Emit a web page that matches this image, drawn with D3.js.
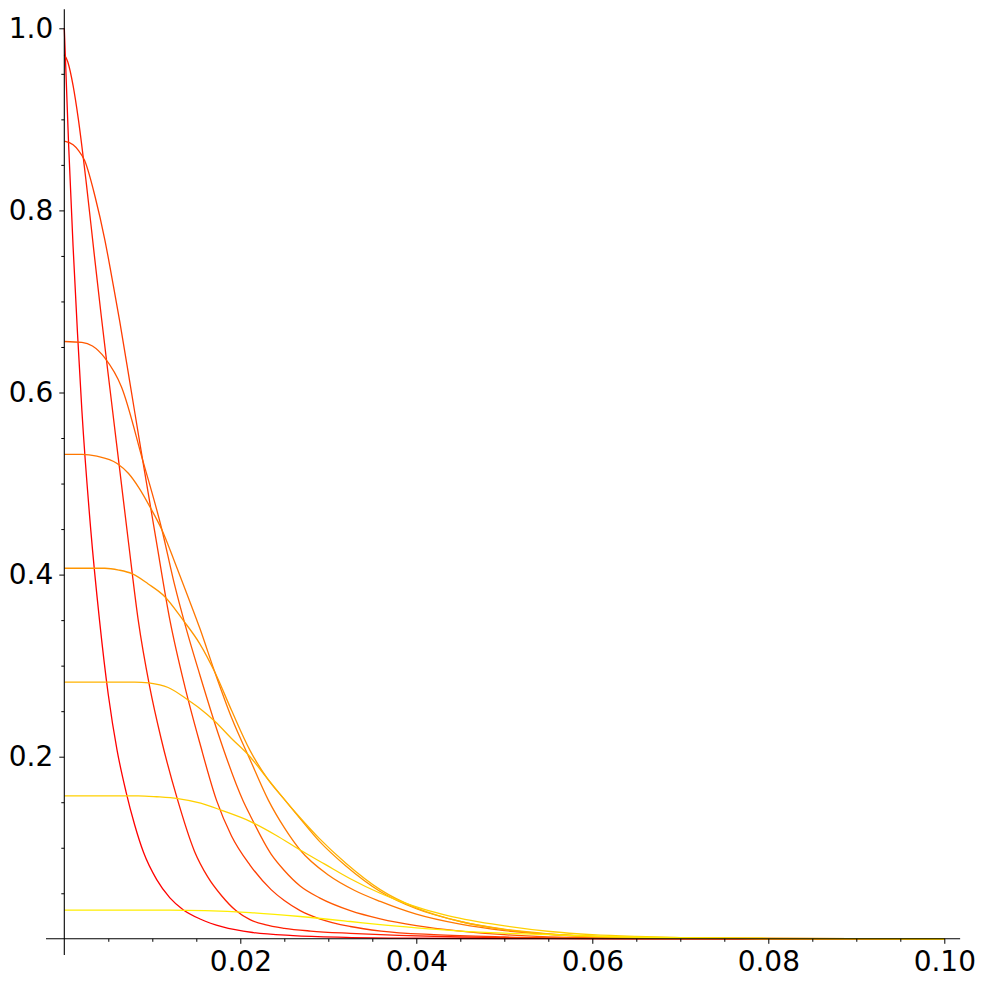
<!DOCTYPE html>
<html>
<head>
<meta charset="utf-8">
<script src="https://cdn.jsdelivr.net/npm/d3@7"></script>
<style>
  html, body { margin: 0; padding: 0; background: #ffffff; }
  svg { display: block; }
  text { font-family: "DejaVu Sans", sans-serif; }
</style>
</head>
<body>
<svg id="chart" width="984" height="986"></svg>
<script>
// ---- data ----
const seriesNames = ["I", "H", "G", "F", "E", "D", "C", "B", "A"];
const seriesColors = ["#ff0000", "#ff1e00", "#ff3c00", "#ff5900", "#ff7700", "#ff9500", "#ffb300", "#ffd000", "#ffee00"];

const curveI = [[0,1.0],[0.0005,0.87],[0.001,0.76],[0.0015,0.665],[0.002,0.58],[0.003,0.45],[0.004,0.35],[0.005,0.268],[0.006,0.207],[0.007,0.162],[0.008,0.125],[0.009,0.095],[0.0105,0.065],[0.012,0.045],[0.0135,0.032],[0.0155,0.0215],[0.018,0.013],[0.0215,0.0068],[0.026,0.0035],[0.032,0.0016],[0.04,0.0006],[0.05,0.0002],[0.06,0.00005],[0.1,0]];
const curveH = [[0,0.971],[0.0004,0.963],[0.001,0.937],[0.0016,0.9],[0.0025,0.83],[0.0034,0.752],[0.0042,0.684],[0.0052,0.603],[0.0063,0.515],[0.0073,0.435],[0.0084,0.35],[0.0097,0.277],[0.011,0.22],[0.0128,0.155],[0.0148,0.096],[0.0163,0.068],[0.0179,0.047],[0.0195,0.031],[0.0211,0.021],[0.0228,0.0155],[0.025,0.0115],[0.028,0.0085],[0.0325,0.006],[0.038,0.0038],[0.045,0.002],[0.055,0.0007],[0.065,0.0002],[0.1,0]];
const curveG = [[0,0.876],[0.001,0.872],[0.0016,0.866],[0.0023,0.855],[0.0035,0.815],[0.0046,0.768],[0.0056,0.716],[0.0063,0.678],[0.0075,0.608],[0.0089,0.526],[0.0104,0.44],[0.012,0.35],[0.0137,0.277],[0.0154,0.215],[0.0173,0.152],[0.019,0.113],[0.0211,0.081],[0.0235,0.054],[0.025,0.042],[0.0268,0.031],[0.029,0.022],[0.0325,0.0135],[0.036,0.0085],[0.042,0.0045],[0.05,0.002],[0.06,0.0006],[0.07,0.0001],[0.1,0]];
const curveF = [[0,0.656],[0.002,0.655],[0.0032,0.651],[0.0046,0.638],[0.0065,0.606],[0.0089,0.526],[0.0111,0.449],[0.0125,0.39],[0.0139,0.339],[0.0154,0.29],[0.0175,0.225],[0.0203,0.152],[0.0211,0.136],[0.0235,0.093],[0.025,0.075],[0.0268,0.058],[0.029,0.045],[0.0325,0.031],[0.0359,0.022],[0.04,0.0145],[0.045,0.0085],[0.05,0.0045],[0.055,0.0022],[0.065,0.0005],[0.1,0]];
const curveE = [[0,0.532],[0.002,0.532],[0.0037,0.53],[0.006,0.522],[0.0073,0.511],[0.0085,0.495],[0.0097,0.475],[0.0111,0.449],[0.0125,0.415],[0.014,0.377],[0.0154,0.341],[0.0171,0.293],[0.019,0.243],[0.0211,0.197],[0.0232,0.152],[0.025,0.122],[0.0268,0.0975],[0.03,0.07],[0.033,0.053],[0.0359,0.041],[0.04,0.027],[0.045,0.016],[0.05,0.009],[0.055,0.005],[0.06,0.0025],[0.07,0.0006],[0.1,0]];
const curveD = [[0,0.407],[0.0046,0.407],[0.0062,0.405],[0.0077,0.401],[0.0095,0.39],[0.0114,0.376],[0.0135,0.35],[0.0154,0.324],[0.0171,0.293],[0.019,0.251],[0.0211,0.207],[0.023,0.177],[0.0251,0.152],[0.0268,0.132],[0.029,0.107],[0.032,0.08],[0.0359,0.052],[0.04,0.033],[0.045,0.019],[0.05,0.01],[0.055,0.005],[0.06,0.0025],[0.07,0.0006],[0.1,0]];
const curveC = [[0,0.282],[0.008,0.282],[0.0096,0.281],[0.0118,0.276],[0.0141,0.262],[0.0154,0.253],[0.0171,0.239],[0.019,0.22],[0.0211,0.2],[0.023,0.177],[0.0251,0.152],[0.0268,0.133],[0.029,0.11],[0.032,0.083],[0.0359,0.054],[0.04,0.034],[0.045,0.019],[0.05,0.0105],[0.055,0.0055],[0.06,0.0028],[0.07,0.0007],[0.1,0]];
const curveB = [[0,0.157],[0.0084,0.157],[0.0105,0.156],[0.0129,0.154],[0.0155,0.149],[0.0179,0.141],[0.0211,0.129],[0.024,0.114],[0.0268,0.0975],[0.0296,0.082],[0.0325,0.066],[0.0359,0.05],[0.0382,0.041],[0.041,0.032],[0.0438,0.025],[0.0495,0.015],[0.0552,0.008],[0.06,0.0045],[0.065,0.0025],[0.07,0.0013],[0.08,0.0003],[0.1,0]];
const curveA = [[0,0.0316],[0.012,0.0316],[0.016,0.031],[0.0211,0.0288],[0.0268,0.0245],[0.0325,0.019],[0.0359,0.0155],[0.04,0.012],[0.045,0.0085],[0.05,0.0062],[0.0552,0.0045],[0.06,0.003],[0.065,0.0018],[0.07,0.001],[0.08,0.0003],[0.1,0]];

const xMajorTicks = [0.02, 0.04, 0.06, 0.08, 0.10];
const xTickLabels = ["0.02", "0.04", "0.06", "0.08", "0.10"];
const yMajorTicks = [0.2, 0.4, 0.6, 0.8, 1.0];
const yTickLabels = ["0.2", "0.4", "0.6", "0.8", "1.0"];

// ---- drawing ----
const allCurves = [curveI, curveH, curveG, curveF, curveE, curveD, curveC, curveB, curveA];
const svg = d3.select("#chart");

const x = d3.scaleLinear().domain([0, 0.1]).range([64.3, 944.3]);
const y = d3.scaleLinear().domain([0, 1]).range([938.8, 28.3]);

const xMinor = d3.range(1, 21).map(i => i * 0.005).filter(v => !xMajorTicks.some(m => Math.abs(m - v) < 1e-9));
const yMinor = d3.range(1, 21).map(i => i * 0.05).filter(v => !yMajorTicks.some(m => Math.abs(m - v) < 1e-9));

// curves
const line = d3.line().x(d => x(d[0])).y(d => y(d[1])).curve(d3.curveMonotoneX);
svg.append("g").selectAll("path")
  .data(allCurves)
  .join("path")
  .attr("d", d => line(d))
  .attr("fill", "none")
  .attr("stroke", (d, i) => seriesColors[i])
  .attr("stroke-width", 1.3);

// axes lines
svg.append("line")
  .attr("x1", x(-0.00208)).attr("x2", x(0.1018))
  .attr("y1", y(0)).attr("y2", y(0))
  .attr("stroke", "#000").attr("stroke-width", 1.1);
svg.append("line")
  .attr("x1", x(0)).attr("x2", x(0))
  .attr("y1", y(-0.0177)).attr("y2", y(1.021))
  .attr("stroke", "#000").attr("stroke-width", 1.1);

// x axis ticks
const xAxisMajor = d3.axisBottom(x).tickValues(xMajorTicks).tickSize(5).tickPadding(7)
  .tickFormat((d, i) => xTickLabels[i]);
const gx = svg.append("g").attr("transform", `translate(0,${y(0)})`).call(xAxisMajor);
gx.select(".domain").remove();
gx.selectAll("text").attr("font-size", 28).attr("font-family", "DejaVu Sans, sans-serif").attr("fill", "#000");
gx.selectAll("line").attr("stroke", "#000");

const xAxisMinor = d3.axisBottom(x).tickValues(xMinor).tickSize(3).tickFormat("");
const gxm = svg.append("g").attr("transform", `translate(0,${y(0)})`).call(xAxisMinor);
gxm.select(".domain").remove();
gxm.selectAll("line").attr("stroke", "#000");

// y axis ticks
const yAxisMajor = d3.axisLeft(y).tickValues(yMajorTicks).tickSize(5).tickPadding(6)
  .tickFormat((d, i) => yTickLabels[i]);
const gy = svg.append("g").attr("transform", `translate(${x(0)},0)`).call(yAxisMajor);
gy.select(".domain").remove();
gy.selectAll("text").attr("font-size", 28).attr("font-family", "DejaVu Sans, sans-serif").attr("fill", "#000");
gy.selectAll("line").attr("stroke", "#000");

const yAxisMinor = d3.axisLeft(y).tickValues(yMinor).tickSize(3).tickFormat("");
const gym = svg.append("g").attr("transform", `translate(${x(0)},0)`).call(yAxisMinor);
gym.select(".domain").remove();
gym.selectAll("line").attr("stroke", "#000");
</script>
</body>
</html>
